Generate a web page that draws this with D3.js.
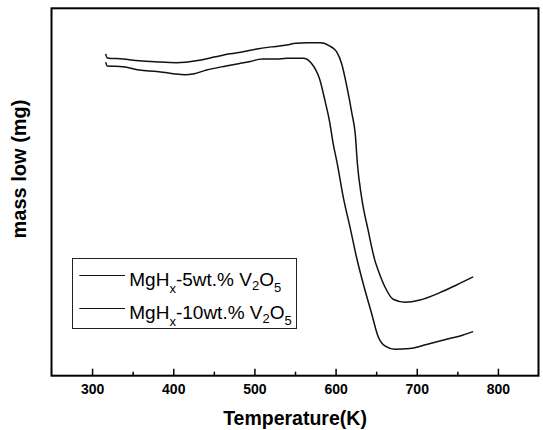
<!DOCTYPE html>
<html>
<head>
<meta charset="utf-8">
<script src="https://cdn.jsdelivr.net/npm/d3@7"></script>
<style>
  body { margin: 0; background: #fff; }
  text { font-family: "Liberation Sans", Arial, sans-serif; }
</style>
</head>
<body>
<div id="chart"></div>
<script>
// temperatures (K) and mass readings (arbitrary units)
const tempA = [316.7, 318.7, 338, 358, 380, 404, 430, 452, 470, 486, 503, 521, 540, 551, 566, 581, 593, 601.2, 607.4, 613.9, 620.1, 624.4, 626.8, 632, 640.1, 648.4, 652.5, 660.7, 670.9, 685.3, 703.8, 728.4, 749, 769.5];
const massA = [87.6, 86.5, 86.2, 85.7, 85.4, 85.2, 85.8, 86.8, 87.6, 88.2, 88.9, 89.5, 90.0, 90.5, 90.6, 90.6, 89.7, 88.2, 85.0, 78.7, 71.4, 65.4, 57.9, 48.6, 39.6, 31.4, 28.7, 24.2, 20.8, 20.0, 20.6, 22.6, 24.7, 26.9];

const tempB = [316.7, 318.7, 338, 358, 380, 400, 414, 426, 441, 465, 482, 495, 505, 511, 527, 540, 560, 570.4, 580.7, 586.8, 593, 596.7, 602, 609.4, 618.5, 626.6, 634, 644.3, 652.5, 660.7, 673, 691.5, 712.1, 736.7, 757.1, 769.5];
const massB = [85.3, 84.3, 84.1, 83.2, 82.8, 82.2, 81.9, 82.2, 83.2, 84.3, 85.0, 85.5, 86.1, 86.2, 86.2, 86.4, 86.4, 85.0, 80.5, 75.0, 68.7, 63.6, 57.8, 48.7, 39.7, 31.5, 25.1, 17.0, 10.6, 8.1, 7.2, 7.4, 8.5, 9.9, 11.1, 12.0];

const majorTicks = [300, 400, 500, 600, 700, 800];
const minorTicks = [350, 450, 550, 650, 750];

// legend: text between MgHx and V2O5
const legendRows = [
  { pct: "-5wt.% V" },
  { pct: "-10wt.% V" }
];

const W = 543, H = 430;
const margin = { top: 8.3, right: 4.5, bottom: 54.3, left: 51.5 };

const svg = d3.select("#chart").append("svg")
  .attr("width", W)
  .attr("height", H);

svg.append("rect").attr("width", W).attr("height", H).attr("fill", "#fff");

const x = d3.scaleLinear().domain([250, 850]).range([margin.left, W - margin.right]);
const y = d3.scaleLinear().domain([0, 100]).range([H - margin.bottom, margin.top]);

// curves
const line = d3.line()
  .x(d => x(d[0]))
  .y(d => y(d[1]))
  .curve(d3.curveMonotoneX);

[[tempA, massA], [tempB, massB]].forEach(([t, m]) => {
  svg.append("path")
    .datum(t.map((v, i) => [v, m[i]]))
    .attr("fill", "none")
    .attr("stroke", "#111")
    .attr("stroke-width", 1.5)
    .attr("d", line);
});

// bottom axis, ticks pointing in
const bottom = H - margin.bottom;
const xAxis = svg.append("g")
  .attr("transform", `translate(0,${bottom})`)
  .call(d3.axisBottom(x).tickValues(majorTicks).tickSize(-7).tickPadding(8).tickFormat(d3.format("d")));
xAxis.select(".domain").remove();
xAxis.selectAll(".tick line").attr("stroke", "#000").attr("stroke-width", 1.5);
xAxis.selectAll("text")
  .attr("font-size", 14)
  .attr("font-weight", "bold")
  .attr("fill", "#000");

const xMinor = svg.append("g")
  .attr("transform", `translate(0,${bottom})`)
  .call(d3.axisBottom(x).tickValues(minorTicks).tickSize(-4).tickFormat(""));
xMinor.select(".domain").remove();
xMinor.selectAll(".tick line").attr("stroke", "#000").attr("stroke-width", 1.5);

// frame
svg.append("rect")
  .attr("x", margin.left)
  .attr("y", margin.top)
  .attr("width", W - margin.left - margin.right)
  .attr("height", H - margin.top - margin.bottom)
  .attr("fill", "none")
  .attr("stroke", "#000")
  .attr("stroke-width", 2);

// axis titles
svg.append("text")
  .attr("x", (margin.left + W - margin.right) / 2)
  .attr("y", 425)
  .attr("text-anchor", "middle")
  .attr("font-size", 19.5)
  .attr("font-weight", "bold")
  .text("Temperature(K)");

svg.append("text")
  .attr("transform", "translate(26,169) rotate(-90)")
  .attr("text-anchor", "middle")
  .attr("font-size", 20)
  .attr("font-weight", "bold")
  .text("mass low (mg)");

// legend
const legend = svg.append("g");
legend.append("rect")
  .attr("x", 72.5).attr("y", 258.5)
  .attr("width", 224).attr("height", 70)
  .attr("fill", "#fff")
  .attr("stroke", "#222")
  .attr("stroke-width", 1);

legendRows.forEach((r, i) => {
  const ly = 275.5 + i * 33;
  legend.append("line")
    .attr("x1", 79.3).attr("x2", 125)
    .attr("y1", ly).attr("y2", ly)
    .attr("stroke", "#111").attr("stroke-width", 1);
  const t = legend.append("text")
    .attr("x", 129.3).attr("y", ly + 10)
    .attr("font-size", 19)
    .attr("fill", "#000");
  t.append("tspan").text("MgH");
  t.append("tspan").attr("font-size", 13).attr("dy", 7).text("x");
  t.append("tspan").attr("dy", -7).text(r.pct);
  t.append("tspan").attr("font-size", 13).attr("dy", 4).text("2");
  t.append("tspan").attr("dy", -4).text("O");
  t.append("tspan").attr("font-size", 13).attr("dy", 6).text("5");
});
</script>
</body>
</html>
